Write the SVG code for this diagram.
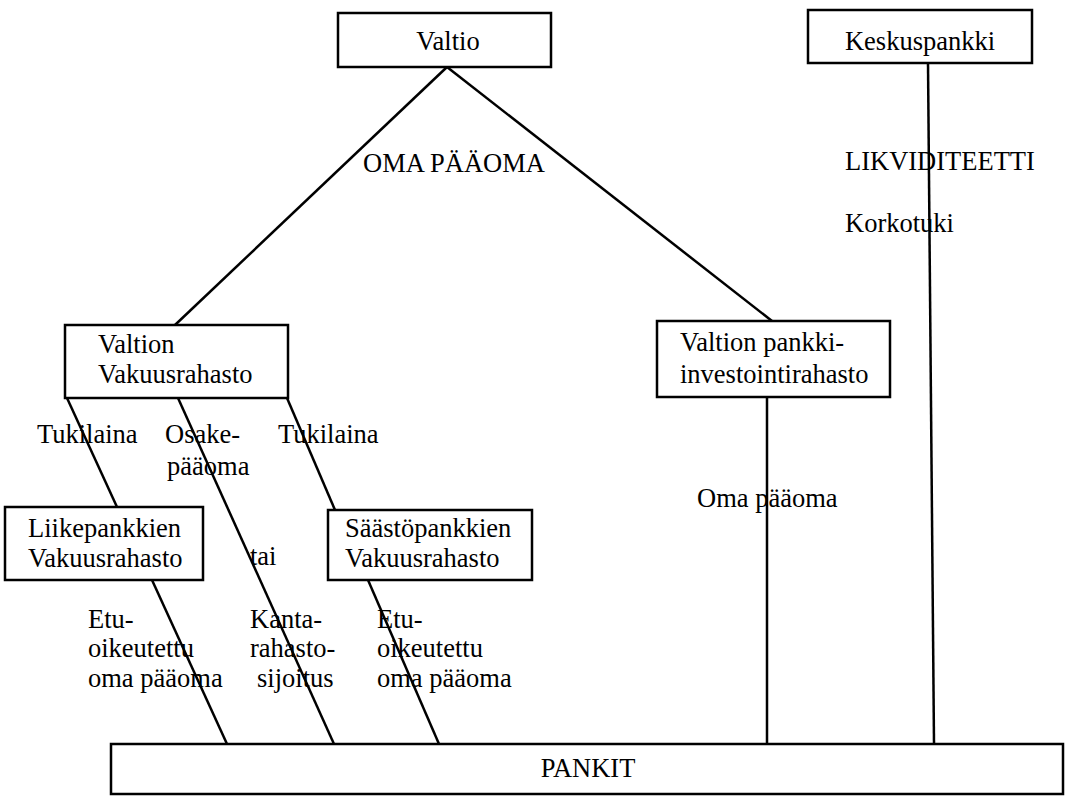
<svg xmlns="http://www.w3.org/2000/svg" width="1068" height="798" viewBox="0 0 1068 798">
<style>
.box{fill:#fff;stroke:#000;stroke-width:2.5}
.ln{stroke:#000;stroke-width:2.5;fill:none}
text{font-family:"Liberation Serif","Times New Roman",serif;font-size:26.5px;fill:#000}
.c{text-anchor:middle}
</style>
<rect width="1068" height="798" fill="#fff"/>
<g id="connectors">
<line class="ln" x1="447" y1="67" x2="175" y2="325"/>
<line class="ln" x1="447" y1="67" x2="772" y2="321"/>
<line class="ln" x1="928" y1="63" x2="934" y2="744"/>
<line class="ln" x1="767" y1="397" x2="767" y2="744"/>
<line class="ln" x1="67" y1="398" x2="117" y2="507"/>
<line class="ln" x1="178" y1="398" x2="334" y2="744"/>
<line class="ln" x1="287" y1="398" x2="335" y2="510"/>
<line class="ln" x1="152" y1="580" x2="227" y2="744"/>
<line class="ln" x1="368" y1="580" x2="439" y2="744"/>
</g>
<g id="labels">
<text x="363" y="172">OMA PÄÄOMA</text>
<text x="845" y="170">LIKVIDITEETTI</text>
<text x="845" y="232">Korkotuki</text>
<text x="697" y="507">Oma pääoma</text>
<text x="37" y="443">Tukilaina</text>
<text x="165" y="443">Osake-</text>
<text x="167" y="475">pääoma</text>
<text x="278" y="443">Tukilaina</text>
<text x="250" y="565">tai</text>
<text x="88" y="628">Etu-</text>
<text x="88" y="657">oikeutettu</text>
<text x="88" y="687">oma pääoma</text>
<text x="250" y="628">Kanta-</text>
<text x="250" y="657">rahasto-</text>
<text x="257" y="687">sijoitus</text>
<text x="377" y="628">Etu-</text>
<text x="377" y="657">oikeutettu</text>
<text x="377" y="687">oma pääoma</text>
</g>
<g id="valtio">
<rect class="box" x="338" y="13" width="213" height="54"/>
<text class="c" x="448" y="50">Valtio</text>
</g>
<g id="keskuspankki">
<rect class="box" x="808" y="10" width="224" height="53"/>
<text class="c" x="920" y="50">Keskuspankki</text>
</g>
<g id="valtion-vakuusrahasto">
<rect class="box" x="65" y="325" width="223" height="73"/>
<text x="98" y="353">Valtion</text>
<text x="98" y="383">Vakuusrahasto</text>
</g>
<g id="valtion-pankki">
<rect class="box" x="657" y="321" width="233" height="76"/>
<text x="680" y="351">Valtion pankki-</text>
<text x="680" y="383">investointirahasto</text>
</g>
<g id="liikepankkien">
<rect class="box" x="5" y="507" width="198" height="73"/>
<text x="28" y="537">Liikepankkien</text>
<text x="28" y="567">Vakuusrahasto</text>
</g>
<g id="saastopankkien">
<rect class="box" x="328" y="510" width="204" height="70"/>
<text x="345" y="537">Säästöpankkien</text>
<text x="345" y="567">Vakuusrahasto</text>
</g>
<g id="pankit">
<rect class="box" x="111" y="744" width="952" height="50"/>
<text class="c" x="588" y="777">PANKIT</text>
</g>
</svg>
